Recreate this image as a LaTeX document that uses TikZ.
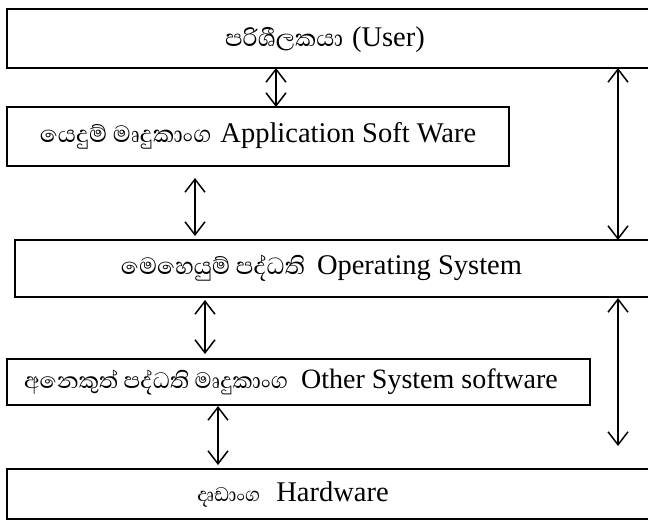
\documentclass[tikz,border=0pt]{standalone}
\usepackage{fontspec}
\setmainfont{Liberation Serif}
\newfontfamily\sinhfont[Script=Sinhala]{Abhaya Libre}
\usetikzlibrary{arrows.meta}
\newcommand{\sintext}[2][30]{{\sinhfont\fontsize{#1}{#1}\selectfont #2}}
\newcommand{\entext}[2][28.5]{{\fontsize{#1}{#1}\selectfont #2}}
\tikzset{
  box/.style={draw, line width=1.6pt, inner sep=0pt, outer sep=0pt},
  lbl/.style={inner sep=0pt, anchor=center},
  dbl/.style={line width=1.5pt, {Straight Barb[length=13pt,width=20pt]}-{Straight Barb[length=13pt,width=20pt]}}
}
\begin{document}
\begin{tikzpicture}[x=1pt,y=-1pt]
\useasboundingbox (0,0) rectangle (648,523);
\clip (0,0) rectangle (648,523);
% boxes
\node[box, minimum width=653pt, minimum height=59pt] (b1) at (333.5,38.5) {};
\node[box, minimum width=502pt, minimum height=59pt] (b2) at (258,136.5) {};
\node[box, minimum width=645pt, minimum height=57pt] (b3) at (337.5,268.5) {};
\node[box, minimum width=583pt, minimum height=46pt] (b4) at (298.5,382) {};
\node[box, minimum width=653pt, minimum height=50pt] (b5) at (333.5,494) {};
% labels
\node[lbl] (t1) at (325,40) {\sintext{පරිශීලකයා}\hspace{9pt}\entext{(User)}};
\node[lbl] (t2) at (258,136) {\sintext{යෙදුම් මෘදුකාංග}\hspace{9pt}\entext{Application Soft Ware}};
\node[lbl] (t3) at (321.5,268) {\sintext{මෙහෙයුම් පද්ධති}\hspace{12pt}\entext{Operating System}};
\node[lbl] (t4) at (291,382) {\sintext[28.5]{අනෙකුත් පද්ධති මෘදුකාංග}\hspace{13pt}\entext[28]{Other System software}};
\node[lbl] (t5) at (293,494) {\sintext[25]{දෘඩාංග}\hspace{16pt}\entext{Hardware}};
% arrow x positions
\coordinate (xa) at (276,0);
\coordinate (xb) at (195,0);
\coordinate (xc) at (205,0);
\coordinate (xd) at (218,0);
\coordinate (xr) at (618,0);
% connectors
\draw[dbl] (b1.south -| xa) -- (b2.north -| xa);
\draw[dbl, shorten <=12pt, shorten >=4pt] (b2.south -| xb) -- (b3.north -| xb);
\draw[dbl, shorten <=3pt, shorten >=5pt] (b3.south -| xc) -- (b4.north -| xc);
\draw[dbl, shorten <=1pt, shorten >=4pt] (b4.south -| xd) -- (b5.north -| xd);
\draw[dbl] (b1.south -| xr) -- (b3.north -| xr);
\draw[dbl, shorten <=1pt, shorten >=23pt] (b3.south -| xr) -- (b5.north -| xr);
\end{tikzpicture}
\end{document}
